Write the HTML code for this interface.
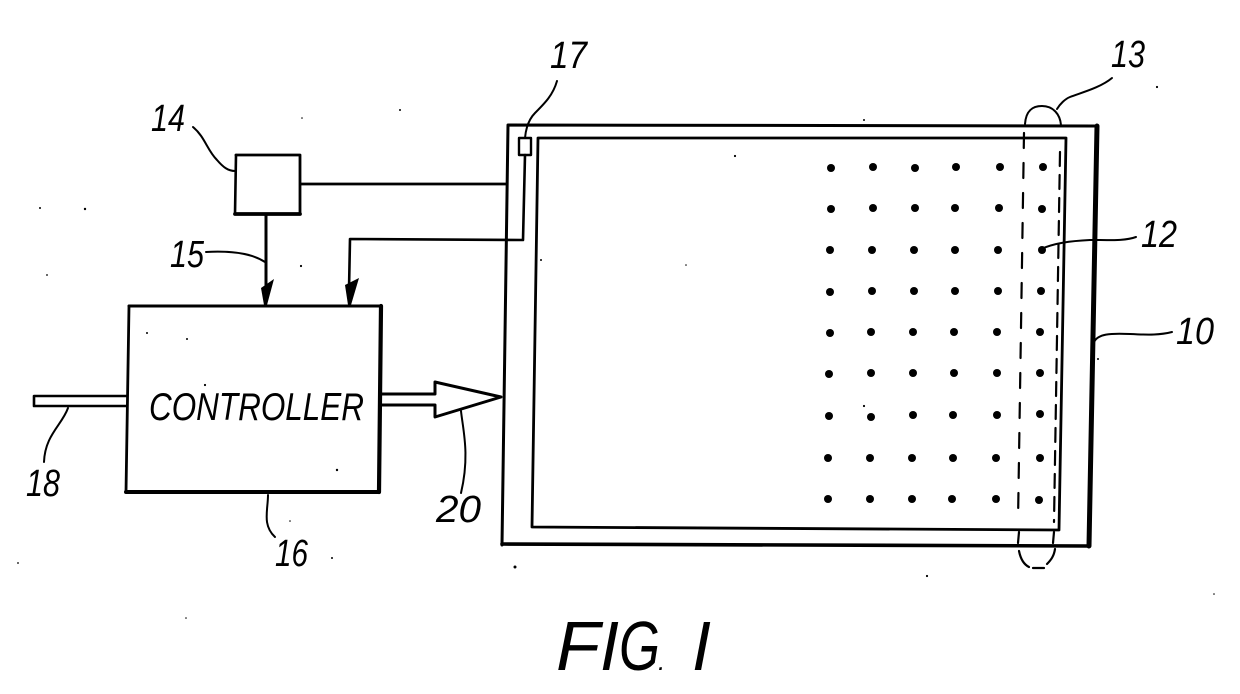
<!DOCTYPE html>
<html>
<head>
<meta charset="utf-8">
<style>
html,body{margin:0;padding:0;background:#fff;width:1240px;height:694px;overflow:hidden}
svg{display:block}
text{font-family:"Liberation Sans",sans-serif;font-style:italic;fill:#000}
</style>
</head>
<body>
<svg width="1240" height="694" viewBox="0 0 1240 694" xmlns="http://www.w3.org/2000/svg">
<rect width="1240" height="694" fill="#fff"/>
<g fill="none" stroke="#000" stroke-linejoin="round" stroke-linecap="round">
  <!-- outer panel -->
  <path d="M502 545 L508 125 L1097 126" stroke-width="3"/>
  <path d="M1097 126 L1089 546" stroke-width="5"/>
  <path d="M502 544 L1089 546" stroke-width="3.6"/>
  <!-- inner panel -->
  <path d="M532 527 L538 138 L1066 138 L1059 530 L532 527" stroke-width="2.8"/>
  <!-- sensor 17 -->
  <rect x="519" y="138" width="12" height="17" stroke-width="2.4"/>
  <path d="M525 155 L523 240 L350 239 L349 290" stroke-width="2.6"/>
  <!-- box 14 -->
  <path d="M236 155 L300 155 L300 213" stroke-width="2.8"/>
  <path d="M236 155 L235 214" stroke-width="2.6"/>
  <path d="M235 214 L300 214" stroke-width="3.8"/>
  <path d="M301 184 L507 184" stroke-width="2.8"/>
  <path d="M266 215 L266 290" stroke-width="3"/>
  <!-- controller -->
  <path d="M129 306 L381 306" stroke-width="3"/>
  <path d="M129 306 L126 492" stroke-width="2.8"/>
  <path d="M381 306 L379 492" stroke-width="4.2"/>
  <path d="M126 492 L379 492" stroke-width="4"/>
  <!-- input 18 -->
  <path d="M127 396 L34 396 L34 406 L127 406" stroke-width="2.6"/>
  <!-- output 20 -->
  <path d="M381 394 L435 394 L435 382 L501 397 L435 417 L435 405 L381 405" stroke-width="3"/>
  <!-- dashed band 13 -->
  <path d="M1025 124 C1026 110 1033 106 1042 106 C1053 106 1060 114 1061 125" stroke-width="2"/>
  <path d="M1024 133 L1018 522" stroke-width="2.2" stroke-dasharray="15 15"/>
  <path d="M1060 152 L1054 522" stroke-width="2.2" stroke-dasharray="14 9"/>
  <path d="M1019 532 L1018 543" stroke-width="2.2"/>
  <path d="M1054 532 L1053 543" stroke-width="2.2"/>
  <path d="M1019 551 C1021 561 1025 565 1029 567" stroke-width="2.2"/>
  <path d="M1033 568 L1044 568" stroke-width="2.2"/>
  <path d="M1047 564 C1051 560 1054 556 1055 549" stroke-width="2.2"/>
  <!-- leaders -->
  <path d="M193 127 C205 137 207 150 217 160 C223 167 228 171 235 171" stroke-width="2"/>
  <path d="M206 252 C225 251 250 252 265 262" stroke-width="2"/>
  <path d="M557 81 C553 95 545 103 535 113 C529 119 526 127 525 138" stroke-width="2"/>
  <path d="M1112 78 C1100 88 1080 93 1070 97 C1065 99 1060 104 1057 109" stroke-width="2"/>
  <path d="M1041 249 C1055 243 1070 241 1090 240 C1110 240 1125 241 1136 237" stroke-width="2"/>
  <path d="M1094 342 C1098 334 1110 333 1130 334 C1150 335 1160 335 1172 332" stroke-width="2"/>
  <path d="M68 408 C62 425 45 435 44 462" stroke-width="2"/>
  <path d="M268 495 C268 510 262 525 275 537" stroke-width="2"/>
  <path d="M461 411 C463 430 470 455 461 493" stroke-width="2"/>
</g>
<!-- arrowheads -->
<g fill="#000">
  <polygon points="261,288 274,279 267,305 264,305"/>
  <polygon points="345,285 359,278 351,305 348,305"/>
</g>
<!-- dots -->
<g fill="#000">
  <circle cx="831" cy="168" r="4"/><circle cx="873" cy="167" r="4"/><circle cx="915" cy="168" r="4"/><circle cx="956" cy="167" r="4"/><circle cx="1000" cy="167" r="4"/><circle cx="1043" cy="167" r="4"/>
  <circle cx="831" cy="209" r="4"/><circle cx="873" cy="208" r="4"/><circle cx="915" cy="208" r="4"/><circle cx="955" cy="208" r="4"/><circle cx="999" cy="208" r="4"/><circle cx="1042" cy="209" r="4"/>
  <circle cx="830" cy="250" r="4"/><circle cx="872" cy="250" r="4"/><circle cx="914" cy="250" r="4"/><circle cx="955" cy="250" r="4"/><circle cx="998" cy="250" r="4"/><circle cx="1042" cy="250" r="4"/>
  <circle cx="830" cy="292" r="4"/><circle cx="872" cy="291" r="4"/><circle cx="914" cy="291" r="4"/><circle cx="955" cy="291" r="4"/><circle cx="998" cy="291" r="4"/><circle cx="1041" cy="291" r="4"/>
  <circle cx="830" cy="333" r="4"/><circle cx="871" cy="332" r="4"/><circle cx="913" cy="332" r="4"/><circle cx="954" cy="332" r="4"/><circle cx="997" cy="332" r="4"/><circle cx="1040" cy="332" r="4"/>
  <circle cx="829" cy="374" r="4"/><circle cx="871" cy="373" r="4"/><circle cx="913" cy="373" r="4"/><circle cx="954" cy="373" r="4"/><circle cx="997" cy="373" r="4"/><circle cx="1040" cy="373" r="4"/>
  <circle cx="829" cy="416" r="4"/><circle cx="871" cy="417" r="4"/><circle cx="913" cy="415" r="4"/><circle cx="953" cy="415" r="4"/><circle cx="997" cy="415" r="4"/><circle cx="1040" cy="414" r="4"/>
  <circle cx="828" cy="458" r="4"/><circle cx="870" cy="458" r="4"/><circle cx="912" cy="458" r="4"/><circle cx="953" cy="458" r="4"/><circle cx="996" cy="458" r="4"/><circle cx="1040" cy="458" r="4"/>
  <circle cx="828" cy="499" r="4"/><circle cx="870" cy="499" r="4"/><circle cx="912" cy="499" r="4"/><circle cx="952" cy="499" r="4"/><circle cx="996" cy="499" r="4"/><circle cx="1039" cy="500" r="4"/>
</g>
<!-- labels -->
<text x="151" y="131" font-size="38" textLength="34" lengthAdjust="spacingAndGlyphs">14</text>
<text x="170" y="267" font-size="38" textLength="34" lengthAdjust="spacingAndGlyphs">15</text>
<text x="550" y="68" font-size="38" textLength="37" lengthAdjust="spacingAndGlyphs">17</text>
<text x="1111" y="67" font-size="38" textLength="34" lengthAdjust="spacingAndGlyphs">13</text>
<text x="1141" y="247" font-size="38" textLength="36" lengthAdjust="spacingAndGlyphs">12</text>
<text x="1176" y="344" font-size="38" textLength="38" lengthAdjust="spacingAndGlyphs">10</text>
<text x="26" y="496" font-size="38" textLength="34" lengthAdjust="spacingAndGlyphs">18</text>
<text x="275" y="566" font-size="38" textLength="33" lengthAdjust="spacingAndGlyphs">16</text>
<text x="436" y="522" font-size="38" textLength="45" lengthAdjust="spacingAndGlyphs">20</text>
<text x="149" y="420" font-size="39" textLength="215" lengthAdjust="spacingAndGlyphs">CONTROLLER</text>
<text x="556" y="670" font-size="70" textLength="44" lengthAdjust="spacingAndGlyphs">F</text>
<text x="600" y="670" font-size="70" textLength="19" lengthAdjust="spacingAndGlyphs">I</text>
<text x="619" y="670" font-size="70" textLength="41" lengthAdjust="spacingAndGlyphs">G</text>
<text x="658" y="670" font-size="26">.</text>
<text x="692" y="670" font-size="70" textLength="19" lengthAdjust="spacingAndGlyphs">I</text>
<!-- specks -->
<g fill="#000">
  <circle cx="40" cy="208" r="1"/><circle cx="85" cy="209" r="1.2"/><circle cx="47" cy="275" r="0.9"/>
  <circle cx="301" cy="266" r="1.1"/><circle cx="147" cy="333" r="1"/><circle cx="187" cy="339" r="1"/>
  <circle cx="205" cy="385" r="1.1"/><circle cx="337" cy="470" r="1.2"/><circle cx="290" cy="521" r="0.8"/>
  <circle cx="332" cy="558" r="1"/><circle cx="18" cy="563" r="0.9"/><circle cx="515" cy="567" r="1.5"/>
  <circle cx="400" cy="110" r="1"/><circle cx="302" cy="118" r="0.8"/><circle cx="864" cy="120" r="1"/>
  <circle cx="735" cy="156" r="1.1"/><circle cx="541" cy="260" r="1"/><circle cx="686" cy="265" r="0.8"/>
  <circle cx="864" cy="406" r="1.1"/><circle cx="1157" cy="87" r="1.1"/><circle cx="927" cy="576" r="1.1"/>
  <circle cx="1214" cy="594" r="0.8"/><circle cx="186" cy="618" r="0.8"/><circle cx="1098" cy="359" r="1"/>
</g>
</svg>
</body>
</html>
